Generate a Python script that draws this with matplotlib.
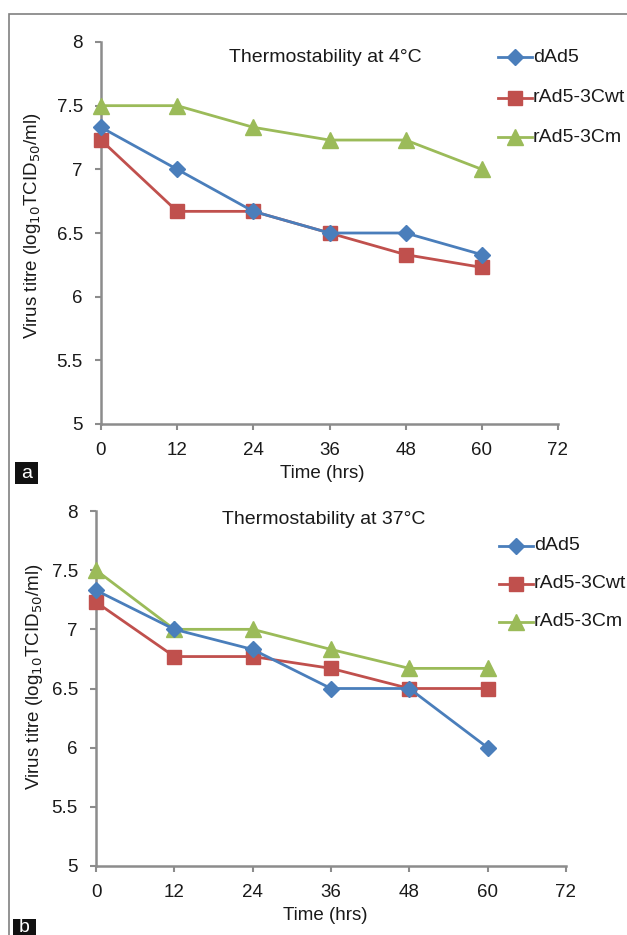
import matplotlib
matplotlib.use("Agg")
import matplotlib.pyplot as plt
from matplotlib.lines import Line2D
from matplotlib.patches import Rectangle

plt.rcParams['font.family'] = ['Liberation Sans', 'DejaVu Sans']

time_hrs = [0, 12, 24, 36, 48, 60]
x_ticks = [0, 12, 24, 36, 48, 60, 72]
y_ticks = [5, 5.5, 6, 6.5, 7, 7.5, 8]
series_names = ["dAd5", "rAd5-3Cwt", "rAd5-3Cm"]

a_dAd5 = [7.33, 7.0, 6.67, 6.5, 6.5, 6.33]
a_wt = [7.23, 6.67, 6.67, 6.5, 6.33, 6.23]
a_cm = [7.5, 7.5, 7.33, 7.23, 7.23, 7.0]

b_dAd5 = [7.33, 7.0, 6.83, 6.5, 6.5, 6.0]
b_wt = [7.23, 6.77, 6.77, 6.67, 6.5, 6.5]
b_cm = [7.5, 7.0, 7.0, 6.83, 6.67, 6.67]

titles = ["Thermostability at 4°C", "Thermostability at 37°C"]
panel_labels = ["a", "b"]

colors = ["#4A7EBB", "#C0504D", "#9BBB59"]
markers = ["D", "s", "^"]
msizes = [8.5, 10.5, 11]

W, H = 627, 935
fig = plt.figure(figsize=(W / 100, H / 100), dpi=100)

def fx(px):
    return px / W

def fy(py):
    return 1 - py / H

# outer border
fig.patches.append(Rectangle((fx(9), fy(H + 5)), 1, fy(14) - fy(H + 5),
                             transform=fig.transFigure, fill=False,
                             edgecolor="#808080", linewidth=1.2))

panels = [
    dict(l=101, r=558, t=42, b=424, data=[a_dAd5, a_wt, a_cm],
         title_xy=(325, 58), leg_x=498, leg_y=[57, 98, 137],
         ylab=(33, 226), xlab=(322, 473), box=(15, 462, 23, 22)),
    dict(l=96, r=566, t=511, b=866, data=[b_dAd5, b_wt, b_cm],
         title_xy=(324, 520), leg_x=499, leg_y=[546, 584, 622],
         ylab=(35, 677), xlab=(325, 915), box=(13, 919, 23, 18)),
]

grey = "#8C8C8C"
txt = "#1a1a1a"
for i, p in enumerate(panels):
    ax = fig.add_axes([fx(p['l']), fy(p['b']), fx(p['r']) - fx(p['l']), fy(p['t']) - fy(p['b'])])
    for s, vals in enumerate(p['data']):
        ax.plot(time_hrs, vals, color=colors[s], marker=markers[s], markersize=msizes[s],
                linewidth=2.0, clip_on=False, zorder=3 + (2 - s) * 0.1)
    ax.set_xlim(0, 72)
    ax.set_ylim(5, 8)
    ax.set_xticks(x_ticks)
    ax.set_yticks(y_ticks)
    ax.set_yticklabels([f"{v:g}" for v in y_ticks])
    for sp in ["top", "right"]:
        ax.spines[sp].set_visible(False)
    for sp in ["left", "bottom"]:
        ax.spines[sp].set_color(grey)
        ax.spines[sp].set_linewidth(1.8)
    ax.tick_params(axis="y", color=grey, width=1.5, length=4, labelsize=13.5, pad=9,
                   direction="out", labelcolor=txt)
    ax.tick_params(axis="x", color=grey, width=1.5, length=4, labelsize=13.5, pad=9,
                   direction="out", labelcolor=txt)
    ax.patch.set_alpha(0)

    fig.text(fx(p['title_xy'][0]), fy(p['title_xy'][1]), titles[i], ha="center", va="center",
             fontsize=14, color=txt)
    fig.text(fx(p['xlab'][0]), fy(p['xlab'][1]), "Time (hrs)", ha="center", va="center",
             fontsize=13.5, color=txt)
    fig.text(fx(p['ylab'][0]), fy(p['ylab'][1]), r"Virus titre (log$_{10}$TCID$_{50}$/ml)",
             ha="center", va="center", rotation=90, fontsize=13.5, color=txt)

    # legend drawn manually
    for s in range(3):
        y = fy(p['leg_y'][s])
        fig.add_artist(Line2D([fx(p['leg_x']), fx(p['leg_x'] + 34)], [y, y],
                              transform=fig.transFigure, color=colors[s], linewidth=2.0))
        fig.add_artist(Line2D([fx(p['leg_x'] + 17)], [y], transform=fig.transFigure,
                              color=colors[s], marker=markers[s], markersize=msizes[s],
                              linestyle="none"))
        fig.text(fx(p['leg_x'] + 35), y, series_names[s], ha="left", va="center",
                 fontsize=14, color=txt)

    bx, by, bw, bh = p['box']
    fig.patches.append(Rectangle((fx(bx), fy(by + bh)), bw / W, bh / H,
                                 transform=fig.transFigure, facecolor="#111111",
                                 edgecolor="none"))
    fig.text(fx(bx + bw / 2), fy(by + bh / 2), panel_labels[i], ha="center", va="center",
             fontsize=14, color="white")

fig.savefig("out.png", dpi=100)
